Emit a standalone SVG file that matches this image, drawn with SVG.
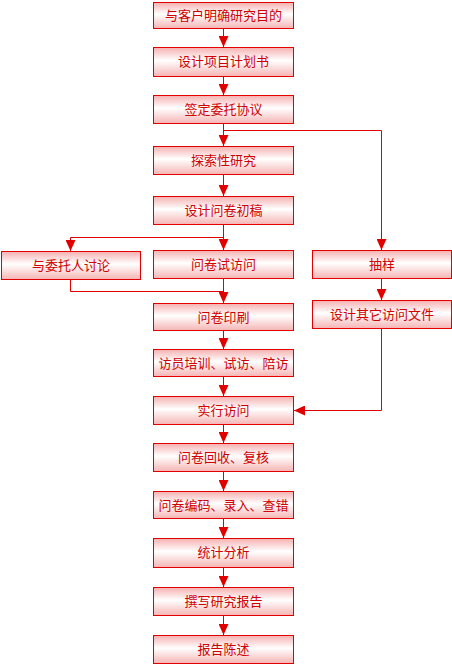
<svg xmlns="http://www.w3.org/2000/svg" width="452" height="664" viewBox="0 0 452 664">
<defs>
<linearGradient id="g" x1="0" y1="0" x2="0" y2="1">
<stop offset="0" stop-color="#f6b0b0"/>
<stop offset="0.45" stop-color="#ffffff"/>
<stop offset="1" stop-color="#f6b4b4"/>
</linearGradient>
<marker id="a" viewBox="0 0 11 10" refX="11" refY="5" markerWidth="11" markerHeight="10" orient="auto" markerUnits="userSpaceOnUse">
<path d="M0,0 L11,5 L0,10 z" fill="#e00000"/>
</marker>
<style>
.b{fill:url(#g);stroke:#e00000;stroke-width:1}
.t{font-family:"Noto Sans CJK SC","Liberation Sans",sans-serif;font-size:13px;fill:#d00000;text-anchor:middle}
.c{fill:none;stroke:#e00000;stroke-width:1}
.c .m{marker-end:url(#a)}
</style>
</defs>
<rect width="452" height="664" fill="#ffffff"/>
<g id="connectors" class="c">
<path class="m" d="M223.5,28.5 V47"/>
<path class="m" d="M223.5,76.5 V95"/>
<path class="m" d="M223.5,123.5 V146"/>
<path class="m" d="M223.5,130.5 H381.5 V250"/>
<path class="m" d="M223.5,174.5 V196"/>
<path class="m" d="M223.5,224.5 V250"/>
<path class="m" d="M223.5,237.5 H70.5 V251"/>
<path class="m" d="M223.5,278.5 V303"/>
<path d="M70.5,279.5 V291.5 H223.5"/>
<path class="m" d="M381.5,278.5 V300"/>
<path class="m" d="M223.5,330.5 V349"/>
<path class="m" d="M223.5,376.5 V396"/>
<path class="m" d="M381.5,328.5 V410.5 H294"/>
<path class="m" d="M223.5,424.5 V443"/>
<path class="m" d="M223.5,471.5 V491"/>
<path class="m" d="M223.5,518.5 V538"/>
<path class="m" d="M223.5,567.5 V587"/>
<path class="m" d="M223.5,615.5 V635"/>
</g>
<g id="n1"><rect class="b" x="153.5" y="2.5" width="140" height="26"/><text class="t" x="223.5" y="20">与客户明确研究目的</text></g>
<g id="n2"><rect class="b" x="153.5" y="47.5" width="140" height="29"/><text class="t" x="223.5" y="66">设计项目计划书</text></g>
<g id="n3"><rect class="b" x="153.5" y="95.5" width="140" height="28"/><text class="t" x="223.5" y="114">签定委托协议</text></g>
<g id="n4"><rect class="b" x="153.5" y="146.5" width="140" height="28"/><text class="t" x="223.5" y="165">探索性研究</text></g>
<g id="n5"><rect class="b" x="153.5" y="196.5" width="140" height="28"/><text class="t" x="223.5" y="215">设计问卷初稿</text></g>
<g id="n6"><rect class="b" x="1.5" y="251.5" width="139" height="28"/><text class="t" x="71" y="270">与委托人讨论</text></g>
<g id="n7"><rect class="b" x="153.5" y="250.5" width="140" height="28"/><text class="t" x="223.5" y="269">问卷试访问</text></g>
<g id="n8"><rect class="b" x="312.5" y="250.5" width="139" height="28"/><text class="t" x="382" y="269">抽样</text></g>
<g id="n9"><rect class="b" x="153.5" y="303.5" width="140" height="27"/><text class="t" x="223.5" y="322">问卷印刷</text></g>
<g id="n10"><rect class="b" x="312.5" y="300.5" width="139" height="28"/><text class="t" x="382" y="319">设计其它访问文件</text></g>
<g id="n11"><rect class="b" x="153.5" y="349.5" width="140" height="27"/><text class="t" x="223.5" y="368">访员培训、试访、陪访</text></g>
<g id="n12"><rect class="b" x="153.5" y="396.5" width="140" height="28"/><text class="t" x="223.5" y="415">实行访问</text></g>
<g id="n13"><rect class="b" x="153.5" y="443.5" width="140" height="28"/><text class="t" x="223.5" y="462">问卷回收、复核</text></g>
<g id="n14"><rect class="b" x="153.5" y="491.5" width="140" height="27"/><text class="t" x="223.5" y="510">问卷编码、录入、查错</text></g>
<g id="n15"><rect class="b" x="153.5" y="538.5" width="140" height="29"/><text class="t" x="223.5" y="557">统计分析</text></g>
<g id="n16"><rect class="b" x="153.5" y="587.5" width="140" height="28"/><text class="t" x="223.5" y="606">撰写研究报告</text></g>
<g id="n17"><rect class="b" x="153.5" y="635.5" width="140" height="28"/><text class="t" x="223.5" y="654">报告陈述</text></g>
</svg>
